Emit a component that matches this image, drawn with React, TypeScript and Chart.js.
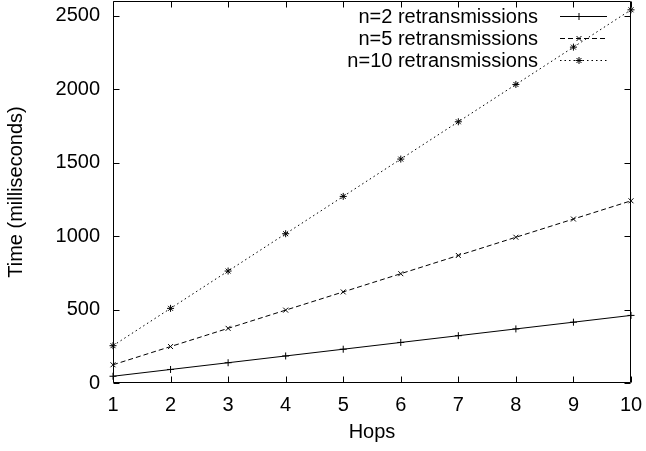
import React, { useEffect, useRef } from "react";
import { Chart, registerables } from "chart.js";

Chart.register(...registerables);

const hops = [1, 2, 3, 4, 5, 6, 7, 8, 9, 10];
const n2Values = [46, 92, 138, 184, 230, 276, 322, 368, 414, 460];
const n5Values = [124, 248, 372, 496, 620, 744, 868, 992, 1116, 1240];
const n10Values = [254, 508, 762, 1016, 1270, 1524, 1778, 2032, 2286, 2540];
const yTicks = [0, 500, 1000, 1500, 2000, 2500];
const xTicks = [1, 2, 3, 4, 5, 6, 7, 8, 9, 10];
const seriesLabels = ["n=2 retransmissions", "n=5 retransmissions", "n=10 retransmissions"];

const FONT = "'Liberation Sans', Arial, Helvetica, sans-serif";
const pointStyles = ["cross", "crossRot", "star"];
const legendRows = [16, 38, 60];

function drawMarker(ctx: CanvasRenderingContext2D, style: string, x: number, y: number, r: number) {
  ctx.beginPath();
  if (style === "cross" || style === "star") {
    ctx.moveTo(x - r, y);
    ctx.lineTo(x + r, y);
    ctx.moveTo(x, y - r);
    ctx.lineTo(x, y + r);
  }
  if (style === "crossRot" || style === "star") {
    const d = r * Math.SQRT1_2;
    ctx.moveTo(x - d, y - d);
    ctx.lineTo(x + d, y + d);
    ctx.moveTo(x + d, y - d);
    ctx.lineTo(x - d, y + d);
  }
  ctx.stroke();
}

const framePlugin = {
  id: "gnuplotFrame",
  afterDraw(chart: any) {
    const { ctx, chartArea } = chart;
    const { left, right, top, bottom } = chartArea;
    const xs = chart.scales.x;
    const ys = chart.scales.y;
    ctx.save();
    ctx.strokeStyle = "#000";
    ctx.lineWidth = 1;
    ctx.setLineDash([]);
    const L = Math.round(left) + 0.5;
    const R = Math.round(right) - 0.5;
    const T = Math.round(top) + 0.5;
    const B = Math.round(bottom) - 0.5;
    ctx.beginPath();
    ctx.rect(L, T, R - L, B - T);
    const tl = 6;
    xTicks.forEach((v) => {
      const x = Math.round(xs.getPixelForValue(v)) + 0.5;
      ctx.moveTo(x, B);
      ctx.lineTo(x, B - tl);
      ctx.moveTo(x, T);
      ctx.lineTo(x, T + tl);
    });
    yTicks.forEach((v) => {
      const y = Math.round(ys.getPixelForValue(v)) + 0.5;
      ctx.moveTo(L, y);
      ctx.lineTo(L + tl, y);
      ctx.moveTo(R, y);
      ctx.lineTo(R - tl, y);
    });
    ctx.stroke();

    // legend
    ctx.font = `20px ${FONT}`;
    ctx.fillStyle = "#000";
    ctx.textAlign = "right";
    ctx.textBaseline = "middle";
    chart.data.datasets.forEach((ds: any, i: number) => {
      const y = legendRows[i];
      ctx.fillText(ds.label, 538, y + 1);
      ctx.save();
      ctx.setLineDash(ds.borderDash || []);
      ctx.beginPath();
      ctx.moveTo(560, y + 0.5);
      ctx.lineTo(607, y + 0.5);
      ctx.stroke();
      ctx.restore();
      ctx.setLineDash([]);
      drawMarker(ctx, pointStyles[i], 579, y + 0.5, 3.5);
    });
    ctx.restore();
  },
};

export default function App() {
  const ref = useRef<HTMLCanvasElement>(null);
  useEffect(() => {
    if (!ref.current) return;
    const common = {
      borderColor: "#000",
      backgroundColor: "#000",
      borderWidth: 1,
      pointRadius: 3.5,
      pointBorderWidth: 1,
      pointBorderColor: "#000",
      tension: 0,
    };
    const datasetValues = [n2Values, n5Values, n10Values];
    const dashes = [[], [5, 3], [1.5, 3]];
    const chart = new Chart(ref.current, {
      type: "line",
      data: {
        datasets: datasetValues.map((vals, k) => ({
          ...common,
          label: seriesLabels[k],
          data: hops.map((h, i) => ({ x: h, y: vals[i] })),
          pointStyle: pointStyles[k] as any,
          borderDash: dashes[k],
        })),
      },
      options: {
        responsive: false,
        animation: false,
        clip: false as any,
        layout: { autoPadding: false, padding: { top: 1, right: 15, left: 0, bottom: 0 } },
        plugins: {
          legend: { display: false },
          tooltip: { enabled: false },
        },
        scales: {
          x: {
            type: "linear",
            min: 1,
            max: 10,
            afterFit: (s: any) => {
              s.height = 68;
              s.paddingLeft = 0;
              s.paddingRight = 0;
              s.paddingTop = 0;
              s.paddingBottom = 0;
            },
            afterBuildTicks: (s: any) => { s.ticks = xTicks.map((v) => ({ value: v })); },
            grid: { display: false, drawTicks: false },
            border: { display: false },
            ticks: {
              color: "#000",
              font: { family: FONT, size: 20 },
              padding: 10,
              maxRotation: 0,
              autoSkip: false,
              callback: (v: any) => String(v),
            },
            title: { display: true, text: "Hops", color: "#000", font: { family: FONT, size: 20 }, padding: { top: 0, bottom: 7 } },
          },
          y: {
            type: "linear",
            min: 0,
            max: 2600,
            afterFit: (s: any) => {
              s.width = 113;
              s.paddingLeft = 0;
              s.paddingRight = 0;
              s.paddingTop = 0;
              s.paddingBottom = 0;
            },
            afterBuildTicks: (s: any) => { s.ticks = yTicks.map((v) => ({ value: v })); },
            grid: { display: false, drawTicks: false },
            border: { display: false },
            ticks: {
              color: "#000",
              font: { family: FONT, size: 20 },
              padding: 13,
              autoSkip: false,
              callback: (v: any) => String(v),
            },
            title: { display: true, text: "Time (milliseconds)", color: "#000", font: { family: FONT, size: 20 }, padding: { top: 4, bottom: 0 } },
          },
        },
      },
      plugins: [framePlugin],
    });
    return () => chart.destroy();
  }, []);
  return (
    <div style={{ position: "absolute", left: 0, top: 0, width: 646, height: 451, background: "#fff" }}>
      <canvas ref={ref} width={646} height={451} />
    </div>
  );
}
